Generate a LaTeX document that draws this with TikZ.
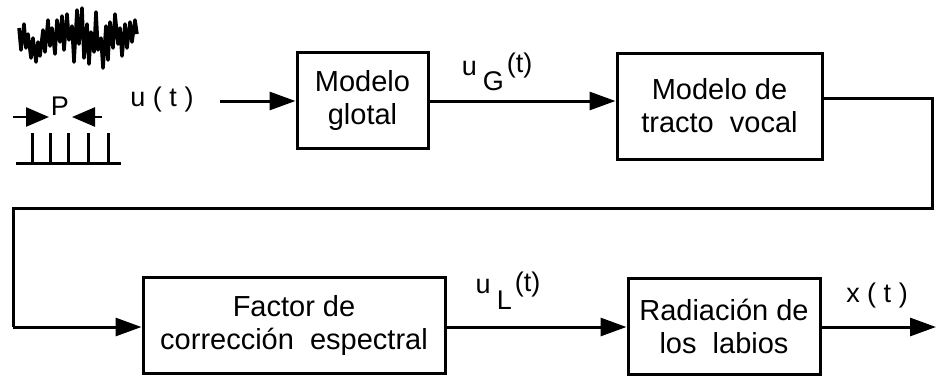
\documentclass[tikz,border=0pt]{standalone}
\usepackage{fontspec}
\setmainfont{Liberation Sans}
\usetikzlibrary{arrows.meta,calc}
\begin{document}
\begin{tikzpicture}[x=1pt,y=-1pt,
  blk/.style={draw,line width=3pt,align=center,inner sep=0pt,
    font=\fontsize{29}{33}\selectfont},
  conn/.style={line width=3pt},
  arr/.style={line width=3pt,-{Triangle[length=26pt,width=18pt]}},
  lbl/.style={font=\fontsize{27}{30}\selectfont,inner sep=0pt},
  sarr/.style={line width=2.5pt,-{Triangle[length=23pt,width=19pt]}}]
\useasboundingbox (0,0) rectangle (936,381);
% blocks
\node[blk,minimum width=131pt,minimum height=96pt] (b1) at (362.5,100) {Modelo\\glotal};
\node[blk,minimum width=205pt,minimum height=106pt] (b2) at (719.5,106) {Modelo de\\tracto\ \ vocal};
\node[blk,minimum width=302pt,minimum height=96pt] (b3) at (294,325) {Factor de\\corrección\ \ espectral};
\node[blk,minimum width=192pt,minimum height=96pt] (b4) at (724,326) {Radiación de\\los\ \ labios};
% free-end coordinates
\coordinate (in) at (220,101);
\coordinate (r1) at (932,98);
\coordinate (r2) at (932,208);
\coordinate (l1) at (13,208);
\coordinate (out) at (936,327);
% connectors
\draw[arr] (in) -- (in -| b1.west);
\draw[arr] (b1.east |- 0,101) -- (b2.west |- 0,101);
\draw[conn] ([yshift=8pt]b2.east) -- (r1) -- (r2) -- (l1) -- (l1 |- 0,327);
\draw[arr] (l1 |- 0,327) -- (b3.west |- 0,327);
\draw[arr] (b3.east |- 0,327) -- (b4.west |- 0,327);
\draw[arr] (b4.east |- 0,327) -- (out);
% labels
\node[lbl] (ut) at (162,100) {u ( t )};
\node[lbl] (ug) at (497,72) {u\hspace{6pt}\raisebox{-15pt}{G}\hspace{3pt}\raisebox{3pt}{(t)}};
\node[lbl] (ul) at (508,291) {u\hspace{6pt}\raisebox{-16pt}{L}\hspace{3pt}\raisebox{2pt}{(t)}};
\node[lbl] (xt) at (877,296) {x ( t )};
% noise waveform
\draw[line width=3.5pt,line join=round] (19,28) -- (21,50) -- (24,24) -- (26,48) -- (28,34) -- (31,58) -- (33,38) -- (36,62) -- (38,42) -- (40,56) -- (43,30) -- (45,52) -- (48,20) -- (50,46) -- (52,28) -- (55,54) -- (57,20) -- (60,42) -- (62,16) -- (64,50) -- (67,14) -- (69,40) -- (72,26) -- (74,62) -- (77,10) -- (79,44) -- (82,8) -- (84,58) -- (87,24) -- (89,64) -- (91,32) -- (94,52) -- (96,12) -- (98,50) -- (101,38) -- (103,68) -- (106,26) -- (108,60) -- (110,22) -- (113,48) -- (115,14) -- (118,44) -- (120,28) -- (122,56) -- (125,24) -- (127,48) -- (130,22) -- (132,42) -- (135,20) -- (137,34);
% pulse train
\draw[line width=3pt] (16,163) -- (121,163);
\foreach \px in {32,50,68,88,108} \draw[line width=3pt] (\px,163) -- (\px,133);
\node[lbl] (p) at (60,106) {P};
\coordinate (pa1) at (13,117);
\coordinate (pa2) at (49,117);
\coordinate (pb1) at (102,117);
\coordinate (pb2) at (72,117);
\draw[sarr] (pa1) -- (pa2);
\draw[sarr] (pb1) -- (pb2);
\end{tikzpicture}
\end{document}
